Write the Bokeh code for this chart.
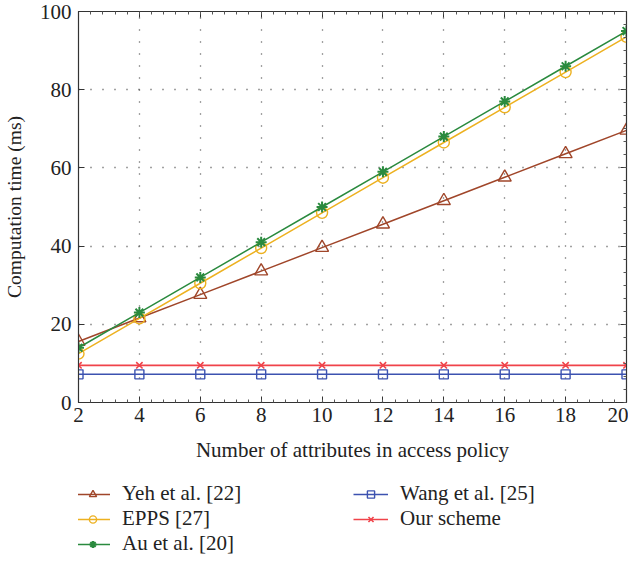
from bokeh.plotting import figure
from bokeh.layouts import column
from bokeh.models import Legend, LegendItem, LinearAxis, FixedTicker, CustomJSTickFormatter, Range1d
from bokeh.embed import file_html
from bokeh.resources import INLINE

x_vals = [2, 4, 6, 8, 10, 12, 14, 16, 18, 20]
yeh = [15.6, 21.6, 27.6, 33.6, 39.6, 45.6, 51.6, 57.6, 63.6, 69.6]
epps = [12.5, 21.5, 30.5, 39.5, 48.5, 57.5, 66.5, 75.5, 84.5, 93.5]
au = [14.0, 23.0, 32.0, 41.0, 50.0, 59.0, 68.0, 77.0, 86.0, 95.0]
wang = [7.2] * 10
ours = [9.5] * 10
x_ticks = [2, 4, 6, 8, 10, 12, 14, 16, 18, 20]
y_ticks = [0, 20, 40, 60, 80, 100]
x_minor = [2 + 0.4 * i for i in range(46)]
y_minor = [100 / 30 * i for i in range(31)]

series = [
    ("Yeh et al. [22]", yeh, "#A0462A", "triangle", 13),
    ("EPPS [27]", epps, "#EDB120", "circle", 11),
    ("Au et al. [20]", au, "#2A8A3E", "asterisk", 11),
    ("Wang et al. [25]", wang, "#3C52B0", "square", 9),
    ("Our scheme", ours, "#F0434A", "x", 9),
]

FONT = "Liberation Serif"
AX = "#333333"
TXT = "#222222"

p = figure(width=628, height=470, x_range=(2, 20), y_range=(0, 100),
           output_backend="svg", toolbar_location=None,
           min_border_left=78, min_border_right=2, min_border_top=11, min_border_bottom=68,
           x_axis_label="Number of attributes in access policy",
           y_axis_label="Computation time (ms)")
p.outline_line_color = AX
p.outline_line_width = 1.2

for ax in [p.xaxis[0], p.yaxis[0]]:
    ax.axis_line_color = AX
    ax.major_tick_line_color = AX
    ax.major_tick_in = 6
    ax.major_tick_out = 0
    ax.minor_tick_in = 3
    ax.minor_tick_out = 0
    ax.minor_tick_line_color = "#555555"
    ax.major_label_text_font = FONT
    ax.major_label_text_font_size = "21px"
    ax.major_label_text_color = TXT
    ax.axis_label_text_font = FONT
    ax.axis_label_text_font_style = "normal"
    ax.axis_label_text_color = TXT
p.xaxis[0].axis_label_text_font_size = "21px"
p.yaxis[0].axis_label_text_font_size = "19.5px"
p.xaxis[0].ticker = FixedTicker(ticks=x_ticks, minor_ticks=x_minor)
p.yaxis[0].ticker = FixedTicker(ticks=y_ticks)
p.yaxis[0].minor_tick_line_color = None
p.xaxis[0].major_label_standoff = 5
p.yaxis[0].major_label_standoff = 7
p.xaxis[0].axis_label_standoff = 13
p.yaxis[0].axis_label_standoff = 12

blank = CustomJSTickFormatter(code="return ''")
r_ax = LinearAxis(ticker=FixedTicker(ticks=y_ticks, minor_ticks=y_minor), formatter=blank,
                  major_tick_in=6, major_tick_out=0, minor_tick_in=3, minor_tick_out=0,
                  minor_tick_line_color="#555555",
                  axis_line_color=AX, major_tick_line_color=AX, major_label_standoff=0)
t_ax = LinearAxis(ticker=FixedTicker(ticks=x_ticks, minor_ticks=x_minor), formatter=blank,
                  major_tick_in=6, major_tick_out=0, minor_tick_in=3, minor_tick_out=0,
                  minor_tick_line_color="#555555",
                  axis_line_color=AX, major_tick_line_color=AX, major_label_standoff=0)
p.add_layout(r_ax, "right")
p.add_layout(t_ax, "above")

p.xgrid.ticker = FixedTicker(ticks=x_ticks)
p.ygrid.ticker = FixedTicker(ticks=y_ticks)
for g in [p.xgrid[0], p.ygrid[0]]:
    g.grid_line_color = "#444444"
    g.grid_line_dash = "1 11"
    g.grid_line_width = 1.3

# legend figure
lf = figure(width=628, height=91, x_range=Range1d(2, 20), y_range=Range1d(0, 100),
            output_backend="svg", toolbar_location=None,
            x_axis_type=None, y_axis_type=None,
            min_border_left=0, min_border_right=0, min_border_top=0, min_border_bottom=0)
lf.outline_line_color = None
lf.xgrid.visible = False
lf.ygrid.visible = False

def draw(fig, label, ys, color, marker, size, visible=True):
    lw = 1.7 if marker == "x" else 1.5
    l = fig.line(x_vals, ys, line_color=color, line_width=lw, visible=visible)
    if marker in ("asterisk", "x"):
        m = fig.scatter(x_vals, ys, marker=marker, size=size, line_color=color,
                        line_width=2 if marker == "asterisk" else 1.6, visible=visible)
    else:
        m = fig.scatter(x_vals, ys, marker=marker, size=size, fill_color=None,
                        line_color=color, line_width=1.4, visible=visible)
    return LegendItem(label=label, renderers=[l, m])

for s in series:
    draw(p, *s)
items = [draw(lf, *s, visible=False) for s in series]

legend = Legend(items=items, nrows=3, orientation="vertical",
                label_text_font=FONT, label_text_font_size="21px", label_text_color=TXT,
                label_text_line_height=1.0,
                glyph_width=35, glyph_height=18, spacing=0, padding=4,
                label_standoff=12, label_width=231, label_height=18,
                border_line_color=None, background_fill_alpha=0,
                margin=0, location=(-3, 5), click_policy="none")
lf.add_layout(legend, "center")

layout = column(p, lf, spacing=0)
open("out.html", "w").write(file_html(layout, INLINE))
